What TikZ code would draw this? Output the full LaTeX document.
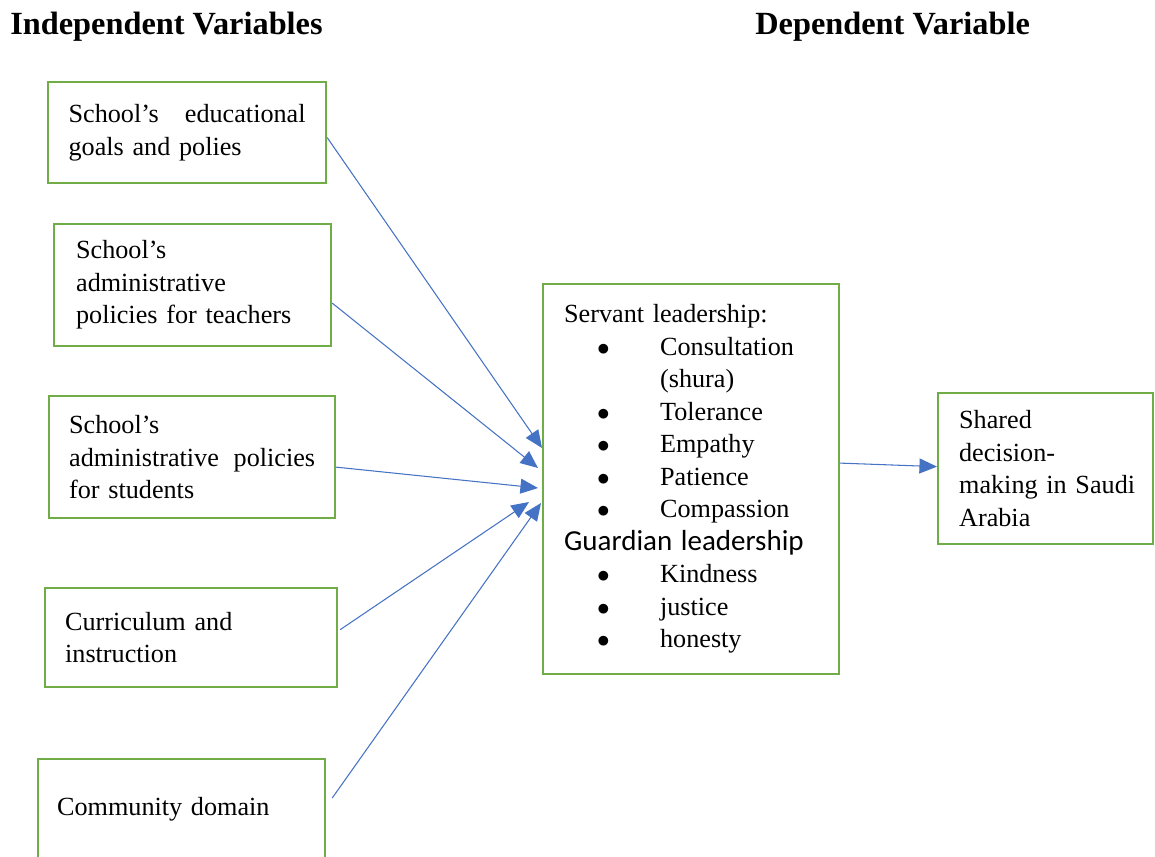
\documentclass[tikz,border=0pt]{standalone}
\usepackage{fontspec}
\setmainfont{Liberation Serif}
\newfontfamily\guardfont{Carlito}
\usetikzlibrary{arrows.meta, calc}
\definecolor{boxgreen}{HTML}{70AD47}
\definecolor{arrowblue}{HTML}{4472C4}
\newcommand{\bitem}[1]{\makebox[1.92cm][l]{\hspace{0.66cm}$\bullet$}#1}

\begin{document}
\begin{tikzpicture}[x=0.02cm, y=-0.02cm,
  var/.style={draw=boxgreen, line width=1.3pt, rectangle, anchor=north west,
    inner sep=0pt, align=left, font=\fontsize{14.9}{18.5}\selectfont},
  link/.style={draw=arrowblue, line width=0.6pt, -{Triangle[length=10pt,width=8.5pt]}},
  head/.style={font=\fontsize{18.4}{21}\selectfont\bfseries, anchor=west, inner sep=0pt}]
\useasboundingbox (0,0) rectangle (1155,856);

% headings
\node[head] (indep) at (10,27) {Independent Variables};
\node[head] (dep) at (755,27) {Dependent Variable};

% left
\node[var, minimum width=5.56cm, minimum height=2.02cm, text width=4.74cm] (goals) at (47,81)
  {\mbox{School's}\hfill\mbox{educational}\\ goals and polies};
\node[var, minimum width=5.54cm, minimum height=2.44cm, text width=4.66cm] (teach) at (53,223)
  {School's\\ administrative\\ policies for teachers};
\node[var, minimum width=5.72cm, minimum height=2.44cm, text width=4.92cm] (stud) at (48,395)
  {School's\\ \mbox{administrative}\hfill\mbox{policies}\\ for students};
\node[var, minimum width=5.84cm, minimum height=1.98cm, text width=5.04cm] (curr) at (44,587)
  {Curriculum and\\ instruction};
\node[var, minimum width=5.74cm, minimum height=2cm, text width=4.98cm] (comm) at (37,758)
  {Community domain};

% middle
\node[var, minimum width=5.92cm, minimum height=7.8cm, text width=5.08cm] (serv) at (542,283)
  {Servant leadership:\\
   \bitem{Consultation}\\
   \hspace*{1.92cm}(shura)\\
   \bitem{Tolerance}\\
   \bitem{Empathy}\\
   \bitem{Patience}\\
   \bitem{Compassion}\\
   {\guardfont\fontsize{16.5}{18.5}\selectfont Guardian leadership}\\
   \bitem{Kindness}\\
   \bitem{justice}\\
   \bitem{honesty}};

% right
\node[var, minimum width=4.3cm, minimum height=3.02cm, text width=3.46cm] (shared) at (937,392)
  {Shared\\ decision-\\ \mbox{making in Saudi}\\ Arabia};

% arrows
\draw[link] ($(goals.east)+(0,5)$) -- ($(serv.north west)+(0,165)$);
\draw[link] ($(teach.east)+(0,18)$) -- ($(serv.north west)+(-4,185)$);
\draw[link] ($(stud.east)+(0,10)$) -- ($(serv.north west)+(-4,205)$);
\draw[link] ($(curr.east)+(2,-8)$) -- ($(serv.north west)+(-13,219)$);
\draw[link] ($(comm.north east)+(6,40)$) -- ($(serv.north west)+(-1,220)$);
\draw[link] ($(serv.east)+(0,-16)$) -- ($(shared.west)+(0,-2)$);
\end{tikzpicture}
\end{document}
